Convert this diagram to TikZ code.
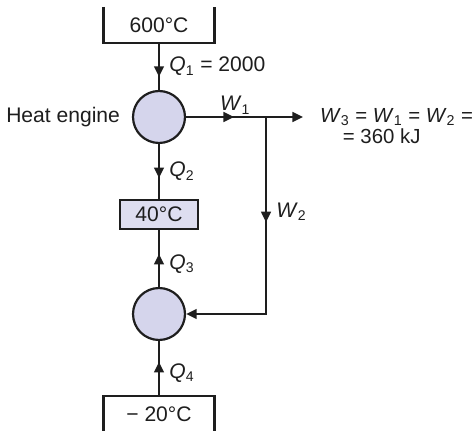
\documentclass[tikz,border=0pt]{standalone}
\usepackage{fontspec}
\setmainfont{Liberation Sans}
\usetikzlibrary{arrows.meta,positioning,decorations.markings}
\definecolor{ink}{HTML}{1E1E1E}
\definecolor{disc}{HTML}{D5D5EC}
\definecolor{slab}{HTML}{DEDEF0}
\newcommand{\flux}[2]{\textit{#1}\textsubscript{#2}}

\begin{document}
\begin{tikzpicture}[x=0.02cm,y=-0.02cm,color=ink,line width=1.25pt,
  font=\fontsize{12pt}{14pt}\selectfont,
  reservoir/.style={minimum width=2.18cm,minimum height=0.68cm,inner sep=0pt},
  device/.style={draw,circle,fill=disc,minimum size=1.04cm,inner sep=0pt},
  sink/.style={draw,fill=slab,minimum width=1.56cm,minimum height=0.58cm,inner sep=0pt},
  flow/.style={-{Triangle[length=6pt,width=5.5pt]}},
  midarrow/.style={postaction={decorate},decoration={markings,
    mark=at position #1 with {\arrow{Triangle[length=6pt,width=5.5pt]}}}},
  lbl/.style={inner sep=1pt}
]
\useasboundingbox (0,0) rectangle (475,431);

\node[reservoir] (hot) at (159,25) {600°C};
\node[device] (engine) at (159,117) {};
\node[sink] (cond) at (159,214.5) {40°C};
\node[device] (pump) at (159,314) {};
\node[reservoir] (cold) at (159,414) {− 20°C};
\node[left=0.1cm of engine] (name) {Heat engine};
\coordinate (split) at (266,117);
\coordinate (out) at (303,117);
\node[anchor=west,inner sep=0pt,align=left,font=\fontsize{11.6pt}{11.8pt}\selectfont] (work) at (319,126)
  {\flux{W}{3} = \flux{W}{1} = \flux{W}{2} =\\\hspace*{13pt}= 360 kJ};

% reservoirs, open at the outer side
\draw (hot.north west) -- (hot.south west) -- (hot.south east) -- (hot.north east);
\draw (cold.south west) -- (cold.north west) -- (cold.north east) -- (cold.south east);

\draw[midarrow=0.72] (hot) -- node[lbl,right=0.15cm] {\flux{Q}{1} = 2000} (engine);
\draw[midarrow=0.62] (engine) -- node[lbl,right=0.15cm] {\flux{Q}{2}} (cond);
\draw[midarrow=0.58] (pump) -- node[lbl,right=0.15cm,pos=0.4] {\flux{Q}{3}} (cond);
\draw[midarrow=0.62] (cold) -- node[lbl,right=0.15cm,pos=0.42] {\flux{Q}{4}} (pump);
\draw[flow,midarrow=0.41] (engine) -- node[lbl,above,pos=0.42] {\flux{W}{1}} (out);
\draw[flow,midarrow=0.38] (split) |- node[lbl,right=0.15cm,pos=0.24] {\flux{W}{2}} (pump);
\end{tikzpicture}
\end{document}
